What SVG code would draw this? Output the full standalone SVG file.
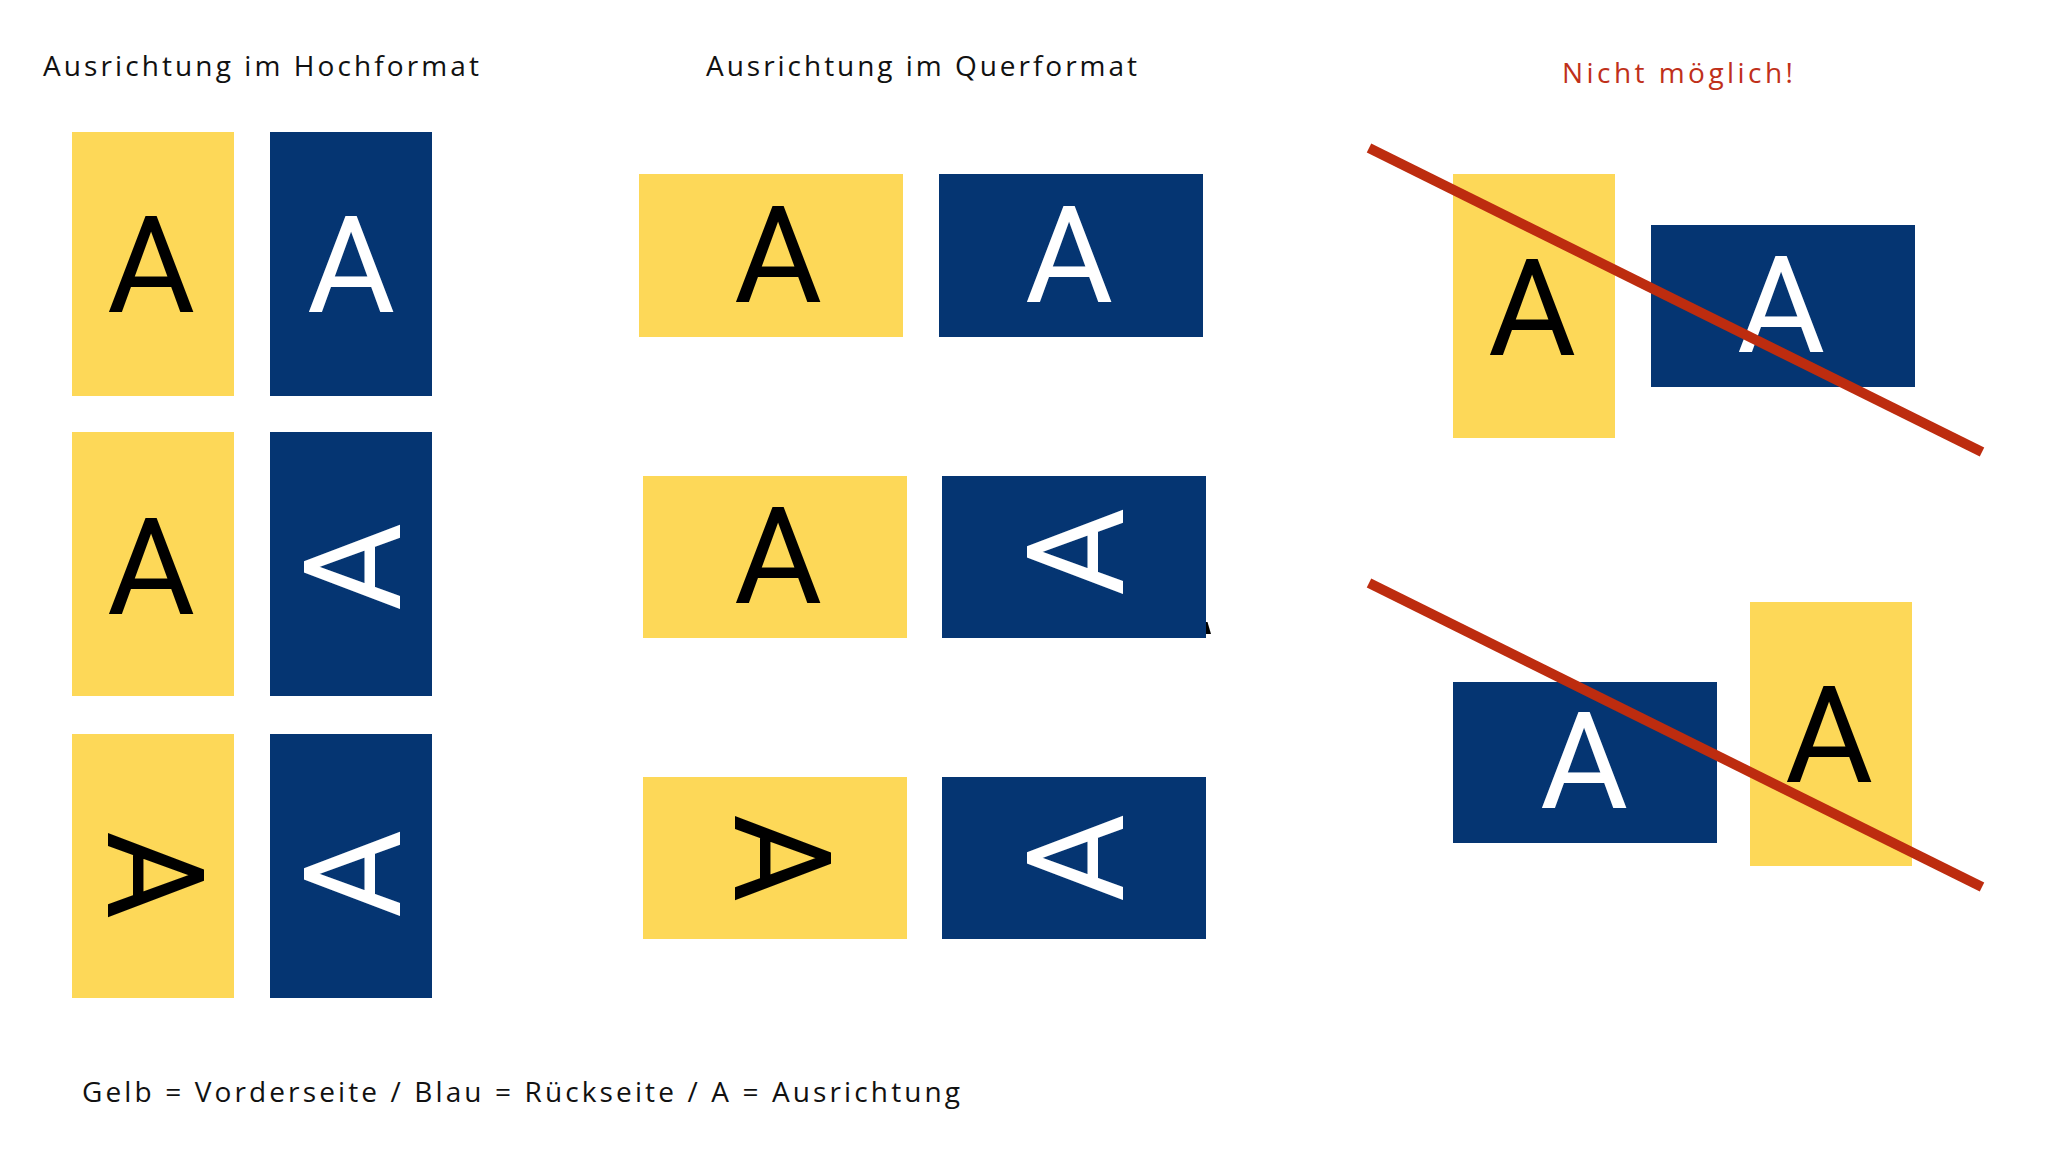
<svg xmlns="http://www.w3.org/2000/svg" width="2048" height="1173" viewBox="0 0 2048 1173">
<style>
.y{fill:#FDD858}
.b{fill:#053572}
.A{font-family:Roboto,"Liberation Sans",sans-serif;font-size:135px;text-anchor:middle}
.ay{fill:#000}
.ab{fill:#fff}
.t{font-family:"Open Sans","Liberation Sans",sans-serif;font-size:28px;fill:#111}
.red{fill:#C0301A}
.x{stroke:#BD2C0F;stroke-width:10;stroke-linecap:butt;fill:none}
</style>
<rect width="2048" height="1173" fill="#fff"/>
<g id="titles">
<text class="t" x="43" y="76" textLength="436" lengthAdjust="spacing">Ausrichtung im Hochformat</text>
<text class="t" x="706" y="76" textLength="431" lengthAdjust="spacing">Ausrichtung im Querformat</text>
<text class="t red" x="1562" y="83" font-size="29" textLength="231" lengthAdjust="spacing">Nicht möglich!</text>
<text class="t" x="82" y="1102" textLength="878" lengthAdjust="spacing">Gelb = Vorderseite / Blau = Rückseite / A = Ausrichtung</text>
</g>
<g id="portrait-r1-yellow"><rect class="y" x="72" y="132" width="162" height="264"/><g transform="translate(151,264)"><text class="A ay" y="48">A</text></g></g>
<g id="portrait-r1-blue"><rect class="b" x="270" y="132" width="162" height="264"/><g transform="translate(351,264)"><text class="A ab" y="48">A</text></g></g>
<g id="portrait-r2-yellow"><rect class="y" x="72" y="432" width="162" height="264"/><g transform="translate(151,566)"><text class="A ay" y="48">A</text></g></g>
<g id="portrait-r2-blue"><rect class="b" x="270" y="432" width="162" height="264"/><g transform="translate(352,567) rotate(-90)"><text class="A ab" y="48">A</text></g></g>
<g id="portrait-r3-yellow"><rect class="y" x="72" y="734" width="162" height="264"/><g transform="translate(156,875) rotate(90)"><text class="A ay" y="48">A</text></g></g>
<g id="portrait-r3-blue"><rect class="b" x="270" y="734" width="162" height="264"/><g transform="translate(352,874) rotate(-90)"><text class="A ab" y="48">A</text></g></g>
<g id="landscape-r1-yellow"><rect class="y" x="639" y="174" width="264" height="163"/><g transform="translate(778,254)"><text class="A ay" y="48">A</text></g></g>
<g id="landscape-r1-blue"><rect class="b" x="939" y="174" width="264" height="163"/><g transform="translate(1069,254)"><text class="A ab" y="48">A</text></g></g>
<g id="landscape-r2-yellow"><rect class="y" x="643" y="476" width="264" height="162"/><g transform="translate(778,555)"><text class="A ay" y="48">A</text></g></g>
<g id="landscape-r2-blue"><polygon points="1206,622 1207.5,622 1211,634 1206,634" fill="#000"/><rect class="b" x="942" y="476" width="264" height="162"/><g transform="translate(1075,552) rotate(-90)"><text class="A ab" y="48">A</text></g></g>
<g id="landscape-r3-yellow"><rect class="y" x="643" y="777" width="264" height="162"/><g transform="translate(783,858) rotate(90)"><text class="A ay" y="48">A</text></g></g>
<g id="landscape-r3-blue"><rect class="b" x="942" y="777" width="264" height="162"/><g transform="translate(1075,858) rotate(-90)"><text class="A ab" y="48">A</text></g></g>
<g id="wrong1-yellow"><rect class="y" x="1453" y="174" width="162" height="264"/><g transform="translate(1532,307)"><text class="A ay" y="48">A</text></g></g>
<g id="wrong1-blue"><rect class="b" x="1651" y="225" width="264" height="162"/><g transform="translate(1781,304)"><text class="A ab" y="48">A</text></g></g>
<g id="wrong2-blue"><rect class="b" x="1453" y="682" width="264" height="161"/><g transform="translate(1584,760)"><text class="A ab" y="48">A</text></g></g>
<g id="wrong2-yellow"><rect class="y" x="1750" y="602" width="162" height="264"/><g transform="translate(1829,734)"><text class="A ay" y="48">A</text></g></g>
<g id="connectors">
<line class="x" x1="1369" y1="148" x2="1982" y2="452"/>
<line class="x" x1="1369" y1="583" x2="1982" y2="887"/>
</g>
</svg>
